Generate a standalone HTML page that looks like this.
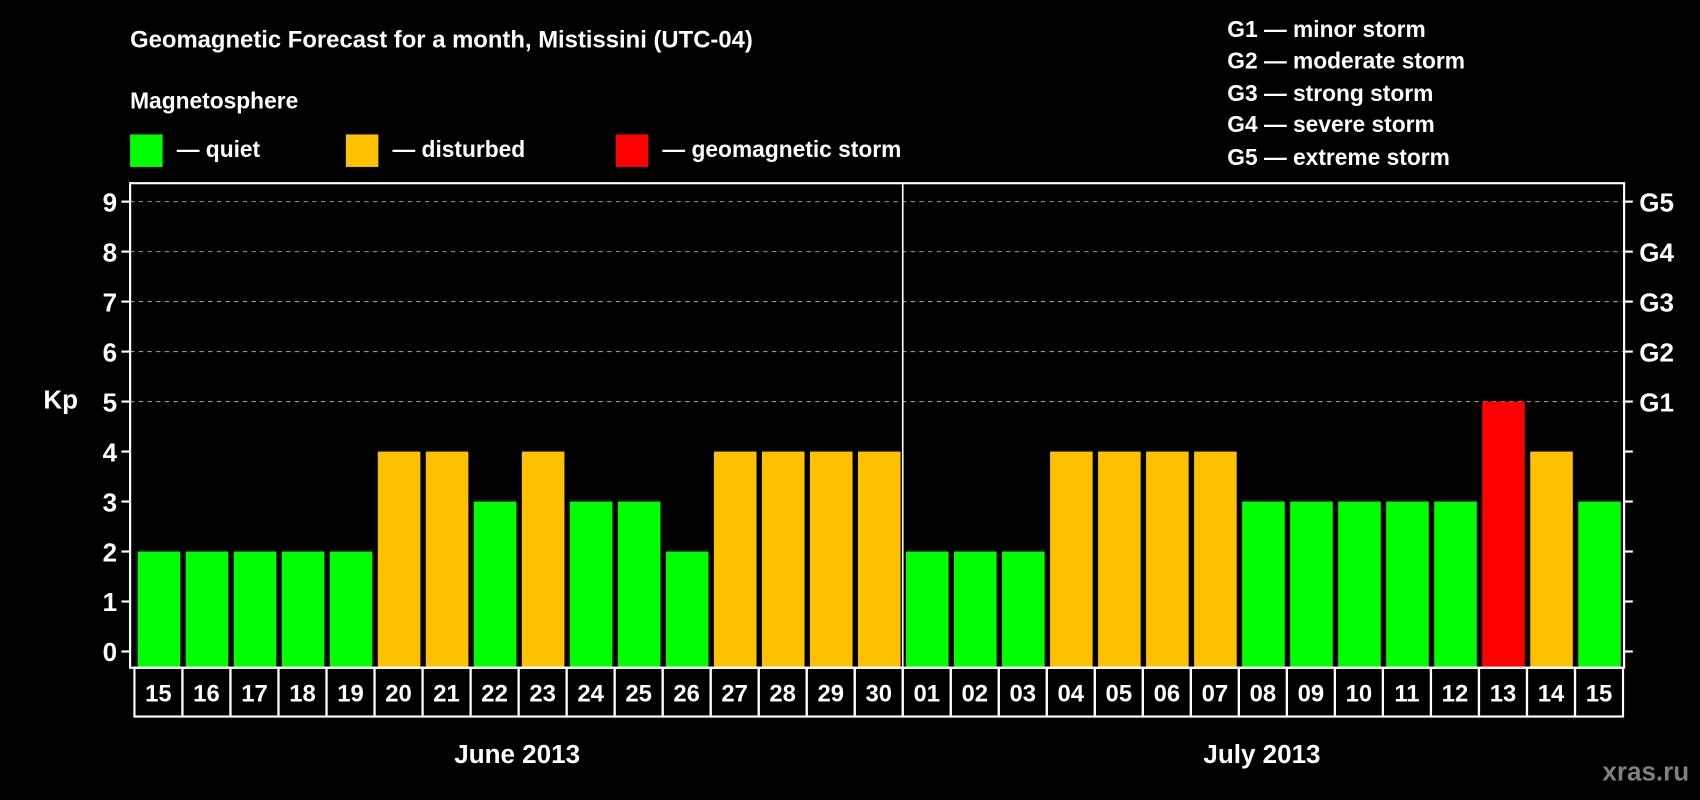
<!DOCTYPE html>
<html><head><meta charset="utf-8"><style>
html,body{margin:0;padding:0;background:#000;width:1700px;height:800px;overflow:hidden}
svg text{font-family:"Liberation Sans",sans-serif;font-weight:bold;fill:#fff}
</style></head><body>
<svg id="chart" width="1700" height="800" viewBox="0 0 1568 738" preserveAspectRatio="none">
<rect width="1568" height="738" fill="#000"/>
<text x="120" y="44" font-size="22">Geomagnetic Forecast for a month, Mistissini (UTC-04)</text>
<text x="120" y="100" font-size="21">Magnetosphere</text>
<g>
<rect x="120" y="124" width="30" height="30" fill="#00ff00"/>
<text x="163" y="145" font-size="21">— quiet</text>
<rect x="319" y="124" width="30" height="30" fill="#ffc000"/>
<text x="362" y="145" font-size="21">— disturbed</text>
<rect x="568" y="124" width="30" height="30" fill="#ff0000"/>
<text x="611" y="145" font-size="21">— geomagnetic storm</text>
</g>
<g font-size="21">
<text x="1132" y="34">G1 — minor storm</text>
<text x="1132" y="63">G2 — moderate storm</text>
<text x="1132" y="93">G3 — strong storm</text>
<text x="1132" y="122">G4 — severe storm</text>
<text x="1132" y="152">G5 — extreme storm</text>
</g>
<text x="40" y="377" font-size="24">Kp</text>
<g id="plot"></g>
<text x="477" y="704" font-size="24" text-anchor="middle">June 2013</text>
<text x="1164" y="704" font-size="24" text-anchor="middle">July 2013</text>
<text x="1558" y="720" font-size="24" text-anchor="end" style="fill:#808080">xras.ru</text>
</svg>
<script>
const days = ["15","16","17","18","19","20","21","22","23","24","25","26","27","28","29","30","01","02","03","04","05","06","07","08","09","10","11","12","13","14","15"];
const kpValues = [2,2,2,2,2,4,4,3,4,3,3,2,4,4,4,4,2,2,2,4,4,4,4,3,3,3,3,3,5,4,3];
const yTicks = [0,1,2,3,4,5,6,7,8,9];
const gLabels = ["G1","G2","G3","G4","G5"];
const gLevels = [5,6,7,8,9];

const NS="http://www.w3.org/2000/svg";
const L=120,R=1498,T=169,B=616,CL=124,CR=1497;
const n=days.length, pitch=(CR-CL)/n;
const y=v=>601-v*(601-186)/9;
const x=i=>CL+i*pitch;
const color=v=>v>=5?"#ff0000":(v>=4?"#ffc000":"#00ff00");
const plot=document.getElementById('plot');
function mk(tag,attrs){const e=document.createElementNS(NS,tag);for(const k in attrs)e.setAttribute(k,attrs[k]);plot.appendChild(e);return e;}

yTicks.forEach(t=>{
  if(t>=5){const g=mk('line',{x1:L,x2:R,y1:y(t),y2:y(t),stroke:'#999','stroke-dasharray':'4,4','stroke-width':1});
  
  }
  const tl=mk('line',{x1:L-8,x2:L,y1:y(t),y2:y(t),stroke:'#fff','stroke-width':2});
  
  
  const tr=mk('line',{x1:R,x2:R+8,y1:y(t),y2:y(t),stroke:'#fff','stroke-width':2});
  
  
  const lb=mk('text',{x:L-12,y:y(t)+9,'font-size':24,'text-anchor':'end'});
  lb.textContent=t;
  
  
});
gLabels.forEach((g,i)=>{
  const lb=mk('text',{x:R+14,y:y(gLevels[i])+9,'font-size':24});
  lb.textContent=g;
  
  
});
kpValues.forEach((v,i)=>{
  const b=mk('rect',{x:x(i)+3,y:y(v),width:pitch-5,height:B-y(v),fill:color(v)});
  
  
});
const fr=mk('rect',{x:L,y:T,width:R-L,height:B-T,fill:'none',stroke:'#fff','stroke-width':2});


const dv=mk('line',{x1:x(16),x2:x(16),y1:T,y2:B,stroke:'#fff','stroke-width':1.5});


days.forEach((d,i)=>{
  const c=mk('rect',{x:x(i),y:B,width:pitch,height:661-B,fill:'none',stroke:'#fff','stroke-width':2});
  
  
  const t=mk('text',{x:x(i)+pitch/2,y:647,'font-size':22,'text-anchor':'middle'});
  t.textContent=d;
  
  
});
</script>
</body></html>
